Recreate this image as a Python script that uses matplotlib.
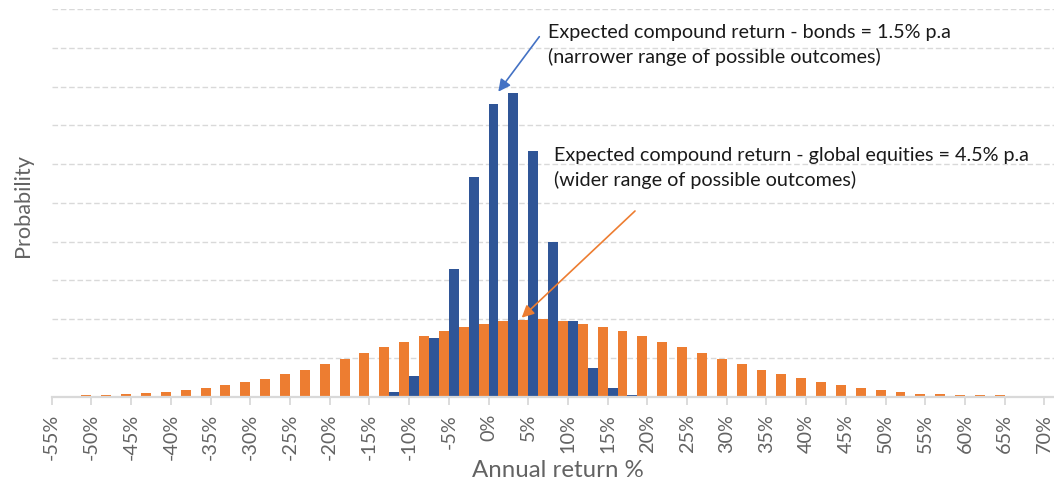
import matplotlib
matplotlib.use("Agg")
import matplotlib.pyplot as plt

# ---------------- data ----------------
bin_start = [-55, -52.5, -50, -47.5, -45, -42.5, -40, -37.5, -35, -32.5,
             -30, -27.5, -25, -22.5, -20, -17.5, -15, -12.5, -10, -7.5,
             -5, -2.5, 0, 2.5, 5, 7.5, 10, 12.5, 15, 17.5,
             20, 22.5, 25, 27.5, 30, 32.5, 35, 37.5, 40, 42.5,
             45, 47.5, 50, 52.5, 55, 57.5, 60, 62.5, 65, 67.5]

bonds = [0, 0, 0, 0, 0, 0, 0, 0, 0, 0,
         0, 0, 0, 0, 0, 0, 0.02, 0.12, 0.53, 1.50,
         3.30, 5.66, 7.54, 7.84, 6.34, 3.98, 1.95, 0.74, 0.21, 0.04,
         0, 0, 0, 0, 0, 0, 0, 0, 0, 0,
         0, 0, 0, 0, 0, 0, 0, 0, 0, 0]

equities = [0.02, 0.04, 0.04, 0.06, 0.08, 0.12, 0.17, 0.23, 0.30, 0.37,
            0.46, 0.58, 0.69, 0.83, 0.98, 1.12, 1.27, 1.41, 1.55, 1.69,
            1.79, 1.88, 1.95, 1.98, 1.99, 1.95, 1.88, 1.79, 1.70, 1.56,
            1.41, 1.27, 1.12, 0.98, 0.84, 0.69, 0.58, 0.48, 0.37, 0.29,
            0.22, 0.16, 0.12, 0.07, 0.06, 0.05, 0.04, 0.03, 0.02, 0.01]

tick_values = [-55, -50, -45, -40, -35, -30, -25, -20, -15, -10, -5, 0, 5,
               10, 15, 20, 25, 30, 35, 40, 45, 50, 55, 60, 65, 70]
tick_labels = [f"{v}%" for v in tick_values]

x_label = "Annual return %"
y_label = "Probability"
note_bonds = ["Expected compound return - bonds = 1.5% p.a",
              "(narrower range of possible outcomes)"]
note_equities = ["Expected compound return - global equities = 4.5% p.a",
                 "(wider range of possible outcomes)"]

# ---------------- style ----------------
W, H = 1054, 486
BLUE = "#2F5597"
ORANGE = "#ED7D31"
GRID = "#D9D9D9"
GRAY = "#636363"
FONT = ["Lato", "DejaVu Sans"]
plt.rcParams["font.family"] = FONT

fig = plt.figure(figsize=(W / 100, H / 100), dpi=100)
fig.patch.set_facecolor("white")

px_per_pct = 7.942
left_px, base_px, top_px = 51.7, 396.5, 9.0
x_right = -55 + (W - left_px) / px_per_pct
ax = fig.add_axes([left_px / W, 1 - base_px / H, (W - left_px) / W, (base_px - top_px) / H])

half = 1.25
ax.bar([s for s in bin_start], bonds, width=half, align="edge", color=BLUE, zorder=3)
ax.bar([s + half for s in bin_start], equities, width=half, align="edge", color=ORANGE, zorder=3)

ax.set_xlim(-55, x_right)
ax.set_ylim(0, 10)
ax.set_yticks(range(1, 11))
ax.yaxis.grid(True, color=GRID, linestyle=(0, (4, 2)), linewidth=1.0, zorder=0)
ax.set_axisbelow(True)
ax.tick_params(axis="y", left=False, labelleft=False)
for s in ("left", "top", "right"):
    ax.spines[s].set_visible(False)
ax.spines["bottom"].set_color(GRID)
ax.spines["bottom"].set_linewidth(1.6)
ax.spines["bottom"].set_zorder(4)

ax.set_xticks(tick_values)
ax.set_xticklabels(tick_labels, rotation=90)
ax.tick_params(axis="x", length=6.0, width=1.3, color=GRID, pad=6.5,
               labelcolor=GRAY, labelsize=14.3)


def fpx(x, y):
    return (x / W, 1 - y / H)


xl = fig.text(*fpx(557.5, 470), x_label, ha="center", va="center",
              color=GRAY, fontsize=14)
yl = fig.text(*fpx(23, 205), y_label, ha="center", va="center", rotation=90,
              color=GRAY, fontsize=14)

t1a = fig.text(*fpx(548.3, 38.3), note_bonds[0], ha="left", va="baseline", fontsize=12, color="#1a1a1a")
t1b = fig.text(*fpx(548.3, 63.3), note_bonds[1], ha="left", va="baseline", fontsize=12, color="#1a1a1a")
t2a = fig.text(*fpx(553.5, 161), note_equities[0], ha="left", va="baseline", fontsize=12, color="#1a1a1a")
t2b = fig.text(*fpx(553.5, 185.7), note_equities[1], ha="left", va="baseline", fontsize=12, color="#1a1a1a")

# fit font sizes to measured widths in the reference
fig.canvas.draw()
r = fig.canvas.get_renderer()


def fit_w(t, target):
    w = t.get_window_extent(r).width
    t.set_fontsize(t.get_fontsize() * target / w)


fit_w(t1b, 331)
fit_w(t2b, 301)
fs_note = (t1b.get_fontsize() + t2b.get_fontsize()) / 2
for t in (t1a, t1b, t2a, t2b):
    t.set_fontsize(fs_note)
fit_w(xl, 172)
hh = yl.get_window_extent(r).height
yl.set_fontsize(yl.get_fontsize() * 104 / hh)

# arrows
ax.annotate("", xy=fpx(498.3, 91.7), xycoords="figure fraction",
            xytext=fpx(539.3, 36.7), textcoords="figure fraction",
            arrowprops=dict(arrowstyle="-|>", color="#4472C4", lw=1.2,
                            mutation_scale=18, shrinkA=0, shrinkB=0))
ax.annotate("", xy=fpx(521.7, 317.7), xycoords="figure fraction",
            xytext=fpx(635, 211), textcoords="figure fraction",
            arrowprops=dict(arrowstyle="-|>", color=ORANGE, lw=1.2,
                            mutation_scale=18, shrinkA=0, shrinkB=0))

fig.savefig("out.png", dpi=100)
